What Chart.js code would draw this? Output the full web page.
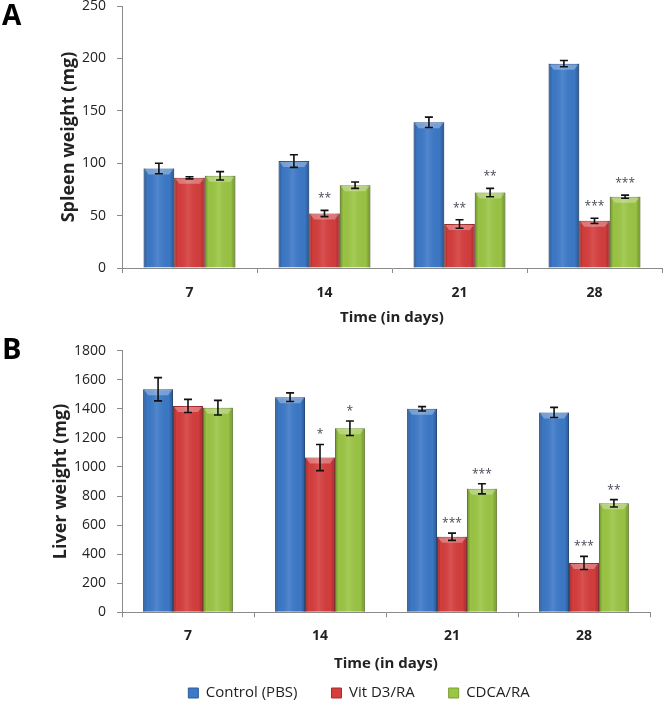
<!DOCTYPE html>
<html><head><meta charset="utf-8">
<script src="https://cdn.jsdelivr.net/npm/chart.js@4/dist/chart.umd.min.js"></script>
<style>
html,body{margin:0;padding:0;background:#fff;overflow:hidden;width:664px;height:702px;position:relative;}
#wa{position:absolute;left:0;top:0px;width:664px;height:330px;}
#wb{position:absolute;left:0;top:330px;width:664px;height:372px;}
.pl{position:absolute;font-family:'Open Sans';font-weight:700;color:#000;line-height:1;}
</style></head><body>
<div id="wa"><canvas id="ca"></canvas></div>
<div id="wb"><canvas id="cb"></canvas></div>
<div class="pl" style="left:2px;top:0px;font-size:28px">A</div>
<div class="pl" style="left:2px;top:333px;font-size:29px">B</div>
<script>
// ---- data ----
const days = ['7', '14', '21', '28'];
const seriesNames = ['Control (PBS)', 'Vit D3/RA', 'CDCA/RA'];

const spleenControl = [95, 102, 139, 195];
const spleenControlErr = [5, 6, 5, 3];
const spleenVit = [86, 52, 42, 45];
const spleenVitErr = [1, 3, 4, 2.5];
const spleenCdca = [88, 79, 72, 68];
const spleenCdcaErr = [4, 3, 4, 1.5];
const spleenVitSig = ['', '**', '**', '***'];
const spleenCdcaSig = ['', '', '**', '***'];
const spleenTicks = [0, 50, 100, 150, 200, 250];

const liverControl = [1535, 1480, 1400, 1375];
const liverControlErr = [80, 30, 15, 35];
const liverVit = [1420, 1065, 520, 340];
const liverVitErr = [45, 90, 25, 45];
const liverCdca = [1408, 1266, 850, 750];
const liverCdcaErr = [50, 50, 35, 25];
const liverVitSig = ['', '*', '***', '***'];
const liverCdcaSig = ['', '*', '***', '**'];
const liverTicks = [0, 200, 400, 600, 800, 1000, 1200, 1400, 1600, 1800];

// ---- styles ----
const FONT = "'Open Sans'";
const fills = ['#3c79c8', '#d63d3d', '#9bc644'];
const borders = ['#2d5c9a', '#a82e2e', '#77a030'];
const axisColor = '#8a8a8a';
const textColor = '#222';

function ds(label, data, errors, sig, idx) {
  return {
    label, data, errors, sig,
    backgroundColor: fills[idx], borderColor: borders[idx], borderWidth: 1,
    categoryPercentage: 0.68, barPercentage: 1.0
  };
}

const barDeco = {
  id: 'barDeco',
  afterDatasetsDraw(chart, args, opts) {
    const ctx = chart.ctx;
    const ys = chart.scales.y;
    chart.data.datasets.forEach((d, di) => {
      chart.getDatasetMeta(di).data.forEach((bar) => {
        const p = bar.getProps(['x', 'y', 'base', 'width'], true);
        const l = p.x - p.width / 2, r = p.x + p.width / 2;
        const g = ctx.createLinearGradient(l, 0, r, 0);
        g.addColorStop(0, 'rgba(0,0,0,0.28)');
        g.addColorStop(0.12, 'rgba(0,0,0,0.02)');
        g.addColorStop(0.45, 'rgba(255,255,255,0.10)');
        g.addColorStop(0.85, 'rgba(0,0,0,0.02)');
        g.addColorStop(1, 'rgba(0,0,0,0.28)');
        ctx.save();
        ctx.fillStyle = g;
        ctx.fillRect(l, p.y, p.width, p.base - p.y);
        ctx.fillStyle = 'rgba(255,255,255,0.30)';
        ctx.beginPath();
        ctx.moveTo(l + 1, p.y + 1);
        ctx.lineTo(r - 1, p.y + 1);
        ctx.lineTo(r - 5, p.y + 6);
        ctx.lineTo(l + 5, p.y + 6);
        ctx.closePath();
        ctx.fill();
        ctx.restore();
      });
    });
    chart.data.datasets.forEach((d, di) => {
      chart.getDatasetMeta(di).data.forEach((bar, i) => {
        const v = d.data[i], e = d.errors[i];
        const x = bar.x;
        const t = ys.getPixelForValue(v + e), b = ys.getPixelForValue(v - e);
        ctx.save();
        ctx.strokeStyle = '#111';
        ctx.lineWidth = 1.6;
        ctx.beginPath();
        ctx.moveTo(x, t); ctx.lineTo(x, b);
        ctx.moveTo(x - 4, t); ctx.lineTo(x + 4, t);
        ctx.moveTo(x - 4, b); ctx.lineTo(x + 4, b);
        ctx.stroke();
        if (d.sig && d.sig[i]) {
          ctx.font = '12px ' + FONT;
          ctx.fillStyle = '#4a4a55';
          ctx.textAlign = 'center';
          ctx.textBaseline = 'alphabetic';
          ctx.fillText(d.sig[i], x, t - opts.starGap);
        }
        ctx.restore();
      });
    });
  }
};

const legendMover = {
  id: 'legendMover',
  afterLayout(chart, args, opts) {
    const lg = chart.legend;
    if (!lg || !opts.center) return;
    const lo = chart.options.plugins.legend.labels;
    const w = lg.right - lg.left;
    lg.left = opts.center - w / 2; lg.right = opts.center + w / 2;
    const item = lo.font.size;
    lg.top = opts.itemCenterY - lo.padding - item / 2;
    lg.bottom = lg.top + lo.padding + item + 10;
    lg.height = lg.bottom - lg.top;
  }
};

function makeOptions(cfg) {
  return {
    responsive: true, maintainAspectRatio: false, animation: false,
    layout: { padding: cfg.padding },
    plugins: {
      legend: cfg.legend,
      tooltip: { enabled: false },
      barDeco: { starGap: cfg.starGap },
      legendMover: cfg.mover || {}
    },
    scales: {
      x: {
        afterFit: (s) => { s.height = cfg.xHeight; },
        grid: { display: true, drawOnChartArea: false, tickLength: 5, color: axisColor, offset: true },
        border: { color: axisColor, width: 1 },
        ticks: { color: textColor, padding: cfg.xTickPad, font: { family: FONT, size: 14, weight: 'bold' } },
        title: { display: true, text: 'Time (in days)', color: textColor, padding: { top: 0, bottom: 0 },
                 font: { family: FONT, size: 15, weight: 'bold' } }
      },
      y: {
        min: cfg.ticks[0], max: cfg.ticks[cfg.ticks.length - 1],
        afterBuildTicks: (s) => { s.ticks = cfg.ticks.map(v => ({ value: v })); },
        afterFit: (s) => { s.width = cfg.yWidth; s.paddingTop = 0; s.paddingBottom = 0; },
        grid: { display: true, drawOnChartArea: false, tickLength: 5, color: axisColor },
        border: { color: axisColor, width: 1 },
        ticks: { color: textColor, padding: 11, font: { family: FONT, size: 14 }, callback: (v) => String(v) },
        title: { display: true, text: cfg.yTitle, color: textColor, padding: { top: cfg.yTitlePad, bottom: 0 },
                 font: { family: FONT, size: 18, weight: 'bold' } }
      }
    }
  };
}

new Chart(document.getElementById('ca'), {
  type: 'bar',
  data: {
    labels: days,
    datasets: [
      ds(seriesNames[0], spleenControl, spleenControlErr, null, 0),
      ds(seriesNames[1], spleenVit, spleenVitErr, spleenVitSig, 1),
      ds(seriesNames[2], spleenCdca, spleenCdcaErr, spleenCdcaSig, 2)
    ]
  },
  options: makeOptions({
    padding: { top: 6, right: 2, left: 0, bottom: 3 },
    legend: { display: false },
    starGap: 8, xTickPad: 12, xHeight: 59,
    ticks: spleenTicks, yWidth: 122, yTitle: 'Spleen weight (mg)', yTitlePad: 58
  }),
  plugins: [barDeco, legendMover]
});

new Chart(document.getElementById('cb'), {
  type: 'bar',
  data: {
    labels: days,
    datasets: [
      ds(seriesNames[0], liverControl, liverControlErr, null, 0),
      ds(seriesNames[1], liverVit, liverVitErr, liverVitSig, 1),
      ds(seriesNames[2], liverCdca, liverCdcaErr, liverCdcaSig, 2)
    ]
  },
  options: makeOptions({
    padding: { top: 20.7, right: 14, left: 0, bottom: 28.7 },
    legend: {
      display: true, position: 'bottom', maxHeight: 1,
      labels: { boxWidth: 10, boxHeight: 10, padding: 34, color: textColor, font: { family: FONT, size: 15 } }
    },
    mover: { center: 359, itemCenterY: 363 },
    starGap: 6, xTickPad: 10, xHeight: 60,
    ticks: liverTicks, yWidth: 122, yTitle: 'Liver weight (mg)', yTitlePad: 50
  }),
  plugins: [barDeco, legendMover]
});
</script>
</body></html>
